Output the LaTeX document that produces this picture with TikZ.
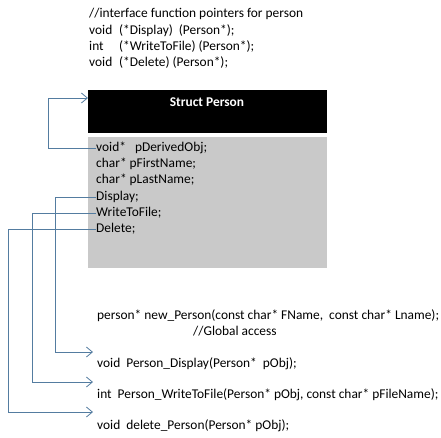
\documentclass[tikz,border=0pt]{standalone}
\usepackage{fontspec}
\setmainfont{Carlito}
\usetikzlibrary{arrows.meta}
\definecolor{linkblue}{RGB}{84,124,160}
\definecolor{fieldgray}{RGB}{201,201,201}
\tikzset{
  code/.style={anchor=west,inner sep=0pt,font=\fontsize{13.4}{15}\selectfont},
  link/.style={draw=linkblue,line width=0.8pt},
  linkto/.style={link,-{Straight Barb[length=6pt,width=10pt,line width=0.8pt]}}
}
\newcommand{\col}[1]{\makebox[30pt][l]{#1}}
\begin{document}
\begin{tikzpicture}[x=1pt,y=-1pt]
  \useasboundingbox (0,0) rectangle (441,437);
  % interface pointers
  \node[code] (c0) at (89,14) {//interface function pointers for person};
  \node[code] (c1) at (89,31) {\col{void}(*Display)\ \ (Person*);};
  \node[code] (c2) at (89,47) {\col{int}(*WriteToFile)\ (Person*);};
  \node[code] (c3) at (89,63) {\col{void}(*Delete)\ (Person*);};
  % struct box
  \node[fill=black,anchor=north west,minimum width=239pt,minimum height=43pt,inner sep=0pt] (head) at (88,90) {};
  \node[code,anchor=center,text=white,font=\fontsize{13.4}{15}\selectfont\bfseries] (headlabel) at (207,102) {Struct Person};
  \node[fill=fieldgray,anchor=north west,minimum width=239pt,minimum height=131pt,inner sep=0pt] (body) at (88,137) {};
  \node[code] (obj) at (96,148) {void*\ \ \ pDerivedObj;};
  \node[code] (first) at (96,164) {char* pFirstName;};
  \node[code] (last) at (96,180) {char* pLastName;};
  \node[code] (disp) at (96,197) {Display;};
  \node[code] (write) at (96,213) {WriteToFile;};
  \node[code] (del) at (96,229) {Delete;};
  % functions
  \node[code] (newp) at (97,316) {person* new\_Person(const char* FName,\ \ const char* Lname);};
  \node[code] (glob) at (193,331) {//Global access};
  \node[code] (pdisp) at (97,364) {void\ \ Person\_Display(Person*\ \ pObj);};
  \node[code] (pwrite) at (97,395) {int\ \ Person\_WriteToFile(Person* pObj, const char* pFileName);};
  \node[code] (pdel) at (97,426) {void\ \ delete\_Person(Person* pObj);};
  \coordinate (headin) at (88,98);
  \coordinate (dispin) at (93,352);
  \coordinate (writein) at (93,382);
  \coordinate (delin) at (93,412);
  % connectors
  \draw[linkto] (obj.west) -| (48,98) -- (headin);
  \draw[linkto] (disp.west) -| (55,352) -- (dispin);
  \draw[linkto] (write.west) -| (32,382) -- (writein);
  \draw[linkto] (del.west) -| (8,412) -- (delin);
\end{tikzpicture}
\end{document}
